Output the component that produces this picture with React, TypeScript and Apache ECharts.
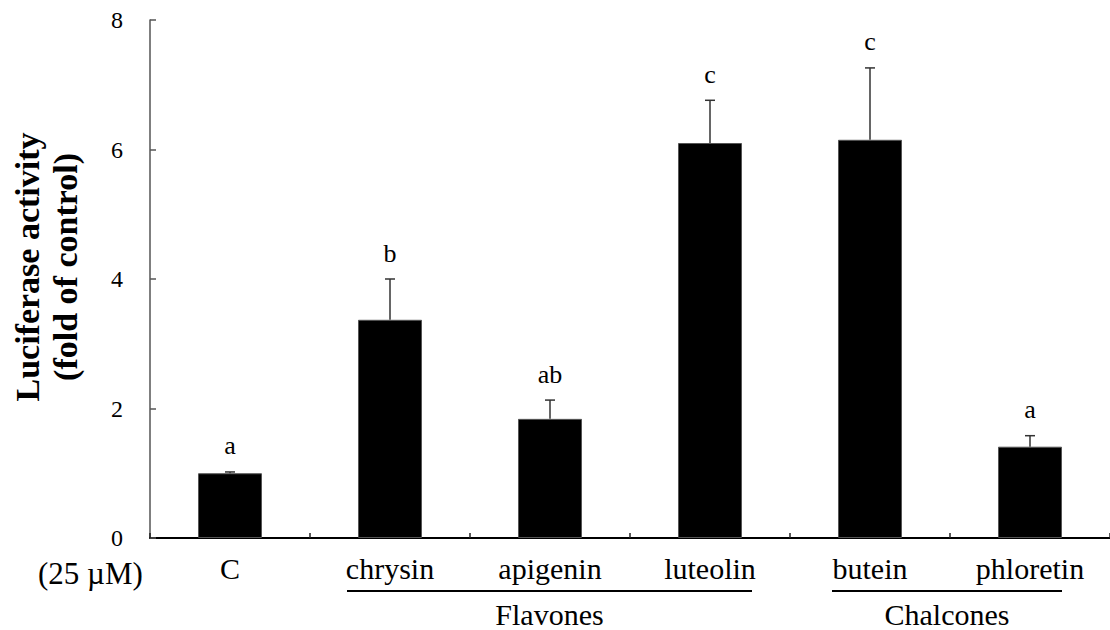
import React, { useEffect, useRef } from "react";
import * as echarts from "echarts";

const categories = ["C", "chrysin", "apigenin", "luteolin", "butein", "phloretin"];
const means = [1.0, 3.37, 1.84, 6.1, 6.15, 1.41];
const errors = [0.02, 0.63, 0.29, 0.66, 1.11, 0.17];
const letters = ["a", "b", "ab", "c", "c", "a"];
const yTickLabels = ["0", "2", "4", "6", "8"];
const groups = [
  { name: "Flavones", from: 1, to: 3 },
  { name: "Chalcones", from: 4, to: 5 },
];
const concLabel = "(25 \u00b5M)";
const yTitle = "Luciferase activity\n(fold of control)";

const SERIF = "'Liberation Serif', 'Times New Roman', serif";

export default function App() {
  const ref = useRef<HTMLDivElement>(null);
  useEffect(() => {
    if (!ref.current) return;
    const chart = echarts.init(ref.current, undefined, { renderer: "svg" });
    const option: any = {
      animation: false,
      backgroundColor: "#ffffff",
      grid: { left: 146, top: 20, width: 964, bottom: 92, containLabel: false },
      xAxis: {
        type: "category",
        data: categories,
        boundaryGap: true,
        axisLine: { lineStyle: { color: "#000", width: 2 } },
        axisTick: { show: true, inside: true, length: 5, lineStyle: { color: "#222", width: 1.5 } },
        axisLabel: { fontFamily: SERIF, fontSize: 30, color: "#000", margin: 15 },
      },
      yAxis: {
        type: "value",
        min: 0,
        max: 8,
        interval: 2,
        name: yTitle,
        nameLocation: "middle",
        nameRotate: 90,
        nameGap: 66,
        nameTextStyle: {
          fontFamily: SERIF,
          fontSize: 34,
          fontWeight: "bold",
          color: "#000",
          lineHeight: 38,
          padding: [0, 0, 0, 24],
        },
        axisLine: { show: true, lineStyle: { color: "#555", width: 1.5 } },
        axisTick: { show: true, inside: true, length: 6, lineStyle: { color: "#555", width: 1.5 } },
        splitLine: { show: false },
        axisLabel: {
          fontFamily: SERIF,
          fontSize: 24,
          color: "#000",
          margin: 27,
          formatter: (v: number) => yTickLabels[Math.round(v / 2)] ?? String(v),
        },
      },
      series: [
        {
          type: "bar",
          data: means,
          barWidth: "40%",
          itemStyle: { color: "#000", borderColor: "#555", borderWidth: 1 },
          z: 2,
        },
        {
          type: "custom",
          z: 3,
          data: means.map((m, i) => [i, m, errors[i]]),
          renderItem: (params: any, api: any) => {
            const i = api.value(0);
            const m = api.value(1);
            const e = api.value(2);
            const top = api.coord([i, m]);
            const hi = api.coord([i, m + e]);
            const half = 5;
            return {
              type: "group",
              children: [
                {
                  type: "line",
                  shape: { x1: top[0], y1: top[1], x2: hi[0], y2: hi[1] },
                  style: { stroke: "#333", lineWidth: 1.5 },
                },
                {
                  type: "line",
                  shape: { x1: hi[0] - half, y1: hi[1], x2: hi[0] + half, y2: hi[1] },
                  style: { stroke: "#333", lineWidth: 1.5 },
                },
                {
                  type: "text",
                  x: hi[0],
                  y: hi[1] - 13,
                  style: {
                    text: letters[i],
                    fontFamily: SERIF,
                    fontSize: 26,
                    fill: "#000",
                    textAlign: "center",
                    textVerticalAlign: "bottom",
                  },
                },
              ],
            };
          },
        },
      ],
    };
    chart.setOption(option);

    const pads = [
      [43, 42],
      [38, 32],
    ];
    const graphics: any[] = [
      {
        type: "text",
        x: 38,
        y: 573,
        style: {
          text: concLabel,
          fontFamily: SERIF,
          fontSize: 31,
          fill: "#000",
          textAlign: "left",
          textVerticalAlign: "middle",
        },
      },
    ];
    groups.forEach((g, gi) => {
      const x1 = (chart.convertToPixel({ xAxisIndex: 0 }, g.from) as number) - pads[gi][0];
      const x2 = (chart.convertToPixel({ xAxisIndex: 0 }, g.to) as number) + pads[gi][1];
      graphics.push({
        type: "line",
        shape: { x1, y1: 591, x2, y2: 591 },
        style: { stroke: "#000", lineWidth: 2 },
      });
      graphics.push({
        type: "text",
        x: (x1 + x2) / 2,
        y: 614,
        style: {
          text: g.name,
          fontFamily: SERIF,
          fontSize: 30,
          fill: "#000",
          textAlign: "center",
          textVerticalAlign: "middle",
        },
      });
    });
    chart.setOption({ graphic: graphics });

    return () => chart.dispose();
  }, []);
  return (
    <div
      ref={ref}
      style={{ position: "fixed", left: 0, top: 0, width: 1110, height: 630, background: "#fff" }}
    />
  );
}
